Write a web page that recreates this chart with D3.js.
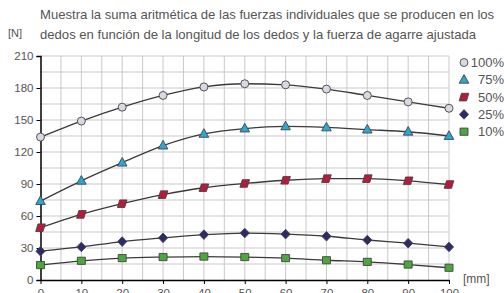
<!DOCTYPE html>
<html><head><meta charset="utf-8">
<script src="https://cdn.jsdelivr.net/npm/d3@7"></script>
<style>body{margin:0;background:#fff;}svg{display:block;font-family:"Liberation Sans",Arial,sans-serif;}</style>
</head><body><svg id="c" width="504" height="293"></svg>
<script>
const xValues = [0,10,20,30,40,50,60,70,80,90,100];
const s100 = [134,149,162,173,181,184,183,179,173,167,161];
const s75  = [74,93,110,126,137,142,144,143,141,139,135];
const s50  = [49,61.5,71.5,80,86.5,90.5,93.5,95,95,93,89.5];
const s25  = [27,31,36,39.5,42.5,44,43,41,37.5,34.5,31];
const s10  = [14,18,20.5,21.5,22,21.5,20.5,18.5,17,14.5,11.5];
const seriesNames = ["100%","75%","50%","25%","10%"];
const yTicks = [0,30,60,90,120,150,180,210];
const xTicks = [0,10,20,30,40,50,60,70,80,90,100];
const titleLines = ["Muestra la suma aritmética de las fuerzas individuales que se producen en los","dedos en función de la longitud de los dedos y la fuerza de agarre ajustada"];

const series = [
  {name:seriesNames[0], values:s100, shape:"circle", fill:"#d9d9e6"},
  {name:seriesNames[1], values:s75, shape:"triangle", fill:"#2ba7d6"},
  {name:seriesNames[2], values:s50, shape:"para", fill:"#b81a3c"},
  {name:seriesNames[3], values:s25, shape:"diamond", fill:"#2c2a6a"},
  {name:seriesNames[4], values:s10, shape:"square", fill:"#4ca73c"}
];

const svg = d3.select("#c");
const x = d3.scaleLinear().domain([0,100]).range([40.5,449]);
const y = d3.scaleLinear().domain([0,210]).range([280,56]);

// grid
const g = svg.append("g");
g.selectAll(".vg").data(d3.range(5,101,5)).join("line")
  .attr("x1",d=>x(d)).attr("x2",d=>x(d)).attr("y1",y(210)).attr("y2",y(0))
  .attr("stroke","#c9c9c9").attr("stroke-width",1);
g.selectAll(".hg").data(d3.range(15,211,15)).join("line")
  .attr("x1",x(0)).attr("x2",x(100)).attr("y1",d=>y(d)).attr("y2",d=>y(d))
  .attr("stroke","#c9c9c9").attr("stroke-width",1);

// axes
const yAxis = d3.axisLeft(y).tickValues(yTicks).tickSize(4).tickPadding(3);
const ya = svg.append("g").attr("transform",`translate(${x(0)},0)`).call(yAxis);
ya.select(".domain").attr("stroke","#000").attr("stroke-width",1.5);
ya.selectAll(".tick line").attr("stroke","#000");
ya.selectAll("text").attr("fill","#555").style("font-size","11.5px").style("font-family","Liberation Sans, Arial, sans-serif");

const xAxis = d3.axisBottom(x).tickValues(xTicks).tickSize(4).tickPadding(5).tickSizeOuter(0);
const xa = svg.append("g").attr("transform",`translate(0,${y(0)})`).call(xAxis);
xa.select(".domain").attr("stroke","#000").attr("stroke-width",1.5);
xa.selectAll(".tick line").attr("stroke","#000");
xa.selectAll("text").attr("fill","#555").style("font-size","11.5px").style("font-family","Liberation Sans, Arial, sans-serif");

// lines
const line = d3.line().x((d,i)=>x(xValues[i])).y(d=>y(d)).curve(d3.curveMonotoneX);
series.forEach(s=>{
  svg.append("path").attr("d",line(s.values)).attr("fill","none")
    .attr("stroke","#3a3a3a").attr("stroke-width",1.3);
});

function shapePath(shape){
  switch(shape){
    case "circle": return null;
    case "triangle": return "M0,-5.2L4.8,3.4L-4.8,3.4Z";
    case "para": return "M-2.5,-3.8L4.8,-3.8L2.5,3.8L-4.8,3.8Z";
    case "diamond": return "M0,-4.8L4.6,0L0,4.8L-4.6,0Z";
    case "square": return "M-4,-3.6L4,-3.6L4,3.6L-4,3.6Z";
  }
}
function drawMarker(sel, s){
  if(s.shape==="circle"){
    sel.append("circle").attr("r",4).attr("fill",s.fill).attr("stroke","#555").attr("stroke-width",1);
  } else {
    sel.append("path").attr("d",shapePath(s.shape)).attr("fill",s.fill).attr("stroke","#444").attr("stroke-width",0.9);
  }
}
series.forEach(s=>{
  s.values.forEach((v,i)=>{
    const m = svg.append("g").attr("transform",`translate(${x(xValues[i])},${y(v)})`);
    drawMarker(m,s);
  });
});

// legend
series.forEach((s,i)=>{
  const ly = 62.5 + i*17.3;
  const m = svg.append("g").attr("transform",`translate(464,${ly})`);
  drawMarker(m,s);
  svg.append("text").attr("x",504).attr("y",ly+4.5).attr("text-anchor","end")
    .attr("fill","#555").style("font-size","13px").text(s.name);
});

// title
titleLines.forEach((t,i)=>{
  svg.append("text").attr("x",40).attr("y",19+i*19.5).attr("fill","#555")
    .style("font-size","13.1px").text(t);
});
svg.append("text").attr("x",8).attr("y",37).attr("fill","#555").style("font-size","11px").text("[N]");
svg.append("text").attr("x",463).attr("y",283).attr("fill","#555").style("font-size","12px").text("[mm]");
</script></body></html>
